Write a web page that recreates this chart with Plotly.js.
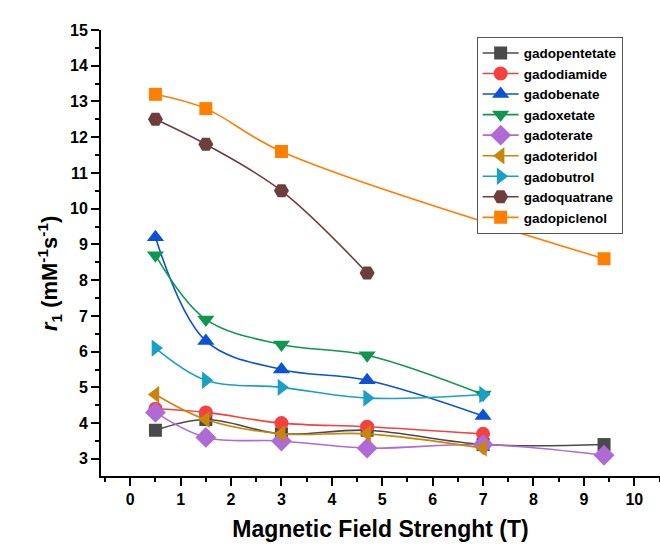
<!DOCTYPE html>
<html>
<head>
<meta charset="utf-8">
<script src="https://cdn.plot.ly/plotly-3.0.1.min.js"></script>
<style>html,body{margin:0;padding:0;background:#fff;}#chart{width:660px;height:549px;}</style>
</head>
<body>
<div id="chart"></div>
<script>
const names = ["gadopentetate","gadodiamide","gadobenate","gadoxetate","gadoterate","gadoteridol","gadobutrol","gadoquatrane","gadopiclenol"];
const xGadopentetate = [0.5, 1.5, 3, 4.7, 7, 9.4];
const yGadopentetate = [3.8, 4.1, 3.7, 3.8, 3.4, 3.4];
const xGadodiamide = [0.5, 1.5, 3, 4.7, 7];
const yGadodiamide = [4.4, 4.3, 4.0, 3.9, 3.7];
const xGadobenate = [0.5, 1.5, 3, 4.7, 7];
const yGadobenate = [9.2, 6.3, 5.5, 5.2, 4.2];
const xGadoxetate = [0.5, 1.5, 3, 4.7, 7];
const yGadoxetate = [8.7, 6.9, 6.2, 5.9, 4.8];
const xGadoterate = [0.5, 1.5, 3, 4.7, 7, 9.4];
const yGadoterate = [4.3, 3.6, 3.5, 3.3, 3.4, 3.1];
const xGadoteridol = [0.5, 1.5, 3, 4.7, 7];
const yGadoteridol = [4.8, 4.1, 3.7, 3.7, 3.3];
const xGadobutrol = [0.5, 1.5, 3, 4.7, 7];
const yGadobutrol = [6.1, 5.2, 5.0, 4.7, 4.8];
const xGadoquatrane = [0.5, 1.5, 3, 4.7];
const yGadoquatrane = [12.5, 11.8, 10.5, 8.2];
const xGadopiclenol = [0.5, 1.5, 3, 9.4];
const yGadopiclenol = [13.2, 12.8, 11.6, 8.6];
const xTitle = 'Magnetic Field Strenght (T)';
const yTitle = '<i>r</i><sub>1</sub> (mM<sup>-1</sup>s<sup>-1</sup>)';

const xs = [xGadopentetate,xGadodiamide,xGadobenate,xGadoxetate,xGadoterate,xGadoteridol,xGadobutrol,xGadoquatrane,xGadopiclenol];
const ys = [yGadopentetate,yGadodiamide,yGadobenate,yGadoxetate,yGadoterate,yGadoteridol,yGadobutrol,yGadoquatrane,yGadopiclenol];
const colors = ["#4a4a4a","#f54040","#0b52d4","#10964f","#b06ad6","#c8860a","#19a0c4","#6e3e3e","#ff8000"];
const symbols = ["square","circle","triangle-up","triangle-down","diamond","triangle-left","triangle-right","hexagon2","square"];
const sizes = [13,14,15,15,16,15,15,15,13];

const traces = names.map((n,i)=>({
  type:'scatter', mode:'lines+markers', name:n, x:xs[i], y:ys[i],
  line:{color:colors[i], width:1.6, shape:'spline', smoothing:1},
  marker:{symbol:symbols[i], size:sizes[i], color:colors[i], line:{width:0}}
}));

const fam = 'Arial, "Liberation Sans", sans-serif';
const layout = {
  width:660, height:549,
  margin:{l:101, r:0, t:30, b:73},
  paper_bgcolor:'#fff', plot_bgcolor:'#fff',
  showlegend:true,
  font:{family:fam, color:'#000'},
  xaxis:{
    range:[-0.58, 10.51], dtick:1, tick0:0,
    showgrid:false, zeroline:false, showline:true, linecolor:'#000', linewidth:2,
    ticks:'outside', ticklen:8, tickwidth:2, tickcolor:'#000',
    minor:{dtick:0.5, tick0:0, ticks:'outside', ticklen:4, tickwidth:2, tickcolor:'#000', showgrid:false},
    tickfont:{family:fam, size:16, weight:'bold', color:'#000'},
    title:{text:xTitle, font:{family:fam, size:23, weight:'bold', color:'#000'}, standoff:14}
  },
  yaxis:{
    range:[2.52, 15], dtick:1, tick0:0,
    showgrid:false, zeroline:false, showline:true, linecolor:'#000', linewidth:2,
    ticks:'outside', ticklen:8, tickwidth:2, tickcolor:'#000',
    minor:{dtick:0.5, tick0:0, ticks:'outside', ticklen:4, tickwidth:2, tickcolor:'#000', showgrid:false},
    tickfont:{family:fam, size:16, weight:'bold', color:'#000'}
  },
  annotations:[{
    text:yTitle, xref:'paper', yref:'paper', x:-0.091, y:0.453,
    xanchor:'center', yanchor:'middle', textangle:-90, showarrow:false,
    font:{family:fam, size:22, weight:'bold', color:'#000'}
  }],
  legend:{
    x:0.672, y:0.985, xanchor:'left', yanchor:'top',
    bgcolor:'#fff', bordercolor:'#555', borderwidth:1,
    font:{family:fam, size:13.5, weight:'bold', color:'#000'},
    tracegroupgap:0, itemwidth:36
  }
};
Plotly.newPlot('chart', traces, layout, {displayModeBar:false, staticPlot:true});
</script>
</body>
</html>
